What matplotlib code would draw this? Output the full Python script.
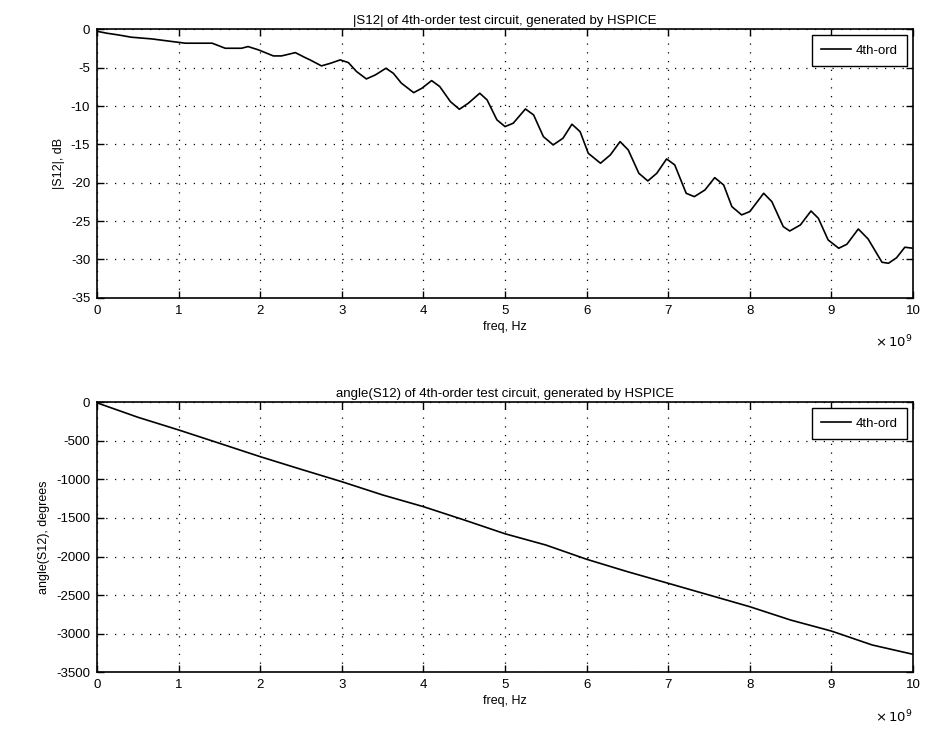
import numpy as np
import matplotlib
matplotlib.use('Agg')
from matplotlib import pyplot as plt

plt.rcParams['font.family'] = ['Liberation Sans', 'DejaVu Sans']
plt.rcParams['font.size'] = 9
plt.rcParams['axes.unicode_minus'] = False

# |S12| in dB, freq in units of 1e9 Hz
mag_freq = [0.0, 0.02, 0.12, 0.26, 0.42, 0.67, 0.83, 1.08, 1.41, 1.57, 1.77, 1.85,
            1.98, 2.16, 2.26, 2.43, 2.55, 2.61, 2.75, 2.86, 2.98, 3.08, 3.18, 3.30,
            3.41, 3.54, 3.63, 3.73, 3.88, 3.98, 4.10, 4.20, 4.33, 4.44, 4.55, 4.69,
            4.78, 4.90, 5.00, 5.10, 5.25, 5.35, 5.47, 5.59, 5.71, 5.82, 5.92, 6.02,
            6.17, 6.29, 6.41, 6.51, 6.64, 6.75, 6.86, 6.98, 7.08, 7.22, 7.32, 7.45,
            7.57, 7.68, 7.78, 7.90, 8.00, 8.17, 8.27, 8.41, 8.49, 8.62, 8.75, 8.84,
            8.96, 9.09, 9.19, 9.33, 9.45, 9.62, 9.70, 9.80, 9.90, 10.0]
mag_db = [-0.2, -0.29, -0.5, -0.72, -1.02, -1.24, -1.46, -1.8, -1.8, -2.46, -2.46, -2.24,
          -2.68, -3.46, -3.46, -3.03, -3.68, -3.98, -4.76, -4.42, -3.98, -4.33, -5.5, -6.46,
          -5.94, -5.07, -5.72, -7.02, -8.25, -7.68, -6.68, -7.46, -9.42, -10.42, -9.63, -8.33,
          -9.2, -11.8, -12.68, -12.24, -10.38, -11.16, -13.99, -15.07, -14.2, -12.37, -13.34, -16.16,
          -17.46, -16.38, -14.64, -15.73, -18.77, -19.77, -18.77, -16.9, -17.68, -21.38, -21.82, -20.95,
          -19.34, -20.3, -23.12, -24.2, -23.77, -21.38, -22.47, -25.73, -26.3, -25.51, -23.69, -24.64,
          -27.47, -28.55, -28.03, -26.04, -27.34, -30.38, -30.51, -29.78, -28.42, -28.55]

# angle(S12) in degrees
ang_freq = [0.0, 0.5, 1.0, 1.5, 2.0, 2.5, 3.0, 3.5, 4.0, 4.5, 5.0,
            5.5, 6.0, 6.5, 7.0, 7.5, 8.0, 8.5, 9.0, 9.5, 10.0]
ang_deg = [-5, -192, -357, -530, -704, -868, -1029, -1201, -1353, -1526, -1705,
           -1851, -2036, -2197, -2348, -2500, -2652, -2825, -2968, -3149, -3270]

xticks = list(range(0, 11))


def matlab_axes(ax):
    ax.set_xlim(0, 10)
    ax.set_xticks(xticks)
    ax.grid(True, linestyle=(0, (1, 6)), color='black', linewidth=0.9)
    ax.tick_params(direction='in', top=True, right=True, length=5, width=1,
                   labelsize=9.5, pad=5)
    for s in ax.spines.values():
        s.set_linewidth(1.2)
    ax.set_xlabel('freq, Hz', labelpad=3)
    ax.text(1.0, -0.135, r'$\times\,10^{9}$', transform=ax.transAxes,
            ha='right', va='top', fontsize=9.5)
    leg = ax.legend(loc='upper right', fancybox=False, edgecolor='black',
                    framealpha=1, handlelength=2.2, handletextpad=0.4,
                    borderpad=0.7, borderaxespad=0.45, fontsize=9.5)
    leg.get_frame().set_linewidth(1.0)


fig = plt.figure(figsize=(9.25, 7.35), dpi=100)

ax1 = fig.add_axes([0.105, 0.595, 0.882, 0.365])
ax1.plot(mag_freq, mag_db, color='black', linewidth=1.2, label='4th-ord',
         solid_joinstyle='round')
ax1.set_ylim(-35, 0)
ax1.set_yticks(np.arange(-35, 1, 5))
ax1.set_ylabel('|S12|, dB')
ax1.set_title('|S12| of 4th-order test circuit, generated by HSPICE', fontsize=9.5, pad=4)
matlab_axes(ax1)

ax2 = fig.add_axes([0.105, 0.0857, 0.882, 0.3667])
ax2.plot(ang_freq, ang_deg, color='black', linewidth=1.2, label='4th-ord')
ax2.set_ylim(-3500, 0)
ax2.set_yticks(np.arange(-3500, 1, 500))
ax2.set_ylabel('angle(S12), degrees')
ax2.set_title('angle(S12) of 4th-order test circuit, generated by HSPICE', fontsize=9.5, pad=4)
matlab_axes(ax2)

fig.savefig('out.png', dpi=100)
